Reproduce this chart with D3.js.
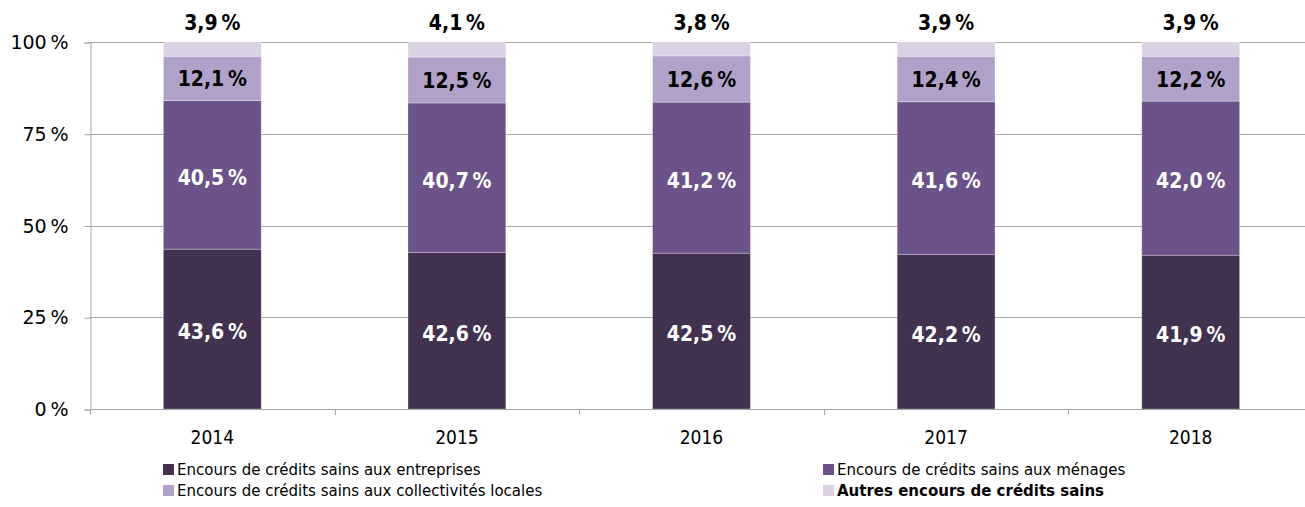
<!DOCTYPE html>
<html>
<head>
<meta charset="utf-8">
<script src="https://cdn.jsdelivr.net/npm/d3@7"></script>
<style>
  body { margin: 0; background: #fff; }
  svg text { font-family: "DejaVu Sans Condensed", "DejaVu Sans", sans-serif; }
</style>
</head>
<body>
<div id="chart"></div>
<script>
const years = ['2014', '2015', '2016', '2017', '2018']
const seriesNames = [
  'Encours de crédits sains aux entreprises',
  'Encours de crédits sains aux ménages',
  'Encours de crédits sains aux collectivités locales',
  'Autres encours de crédits sains'
]
const entreprises = [43.6, 42.6, 42.5, 42.2, 41.9]
const menages = [40.5, 40.7, 41.2, 41.6, 42.0]
const collectivites = [12.1, 12.5, 12.6, 12.4, 12.2]
const autres = [3.9, 4.1, 3.8, 3.9, 3.9]
const yTicks = [0, 0.25, 0.5, 0.75, 1]

const colours = ['#423250', '#6b5389', '#b1a1c8', '#dad1e4']
const labelColours = ['#fff', '#fff', '#000', '#000']

const width = 1305
const height = 507

const rows = years.map((y, i) => ({
  year: y,
  s0: entreprises[i],
  s1: menages[i],
  s2: collectivites[i],
  s3: autres[i]
}))
const keys = ['s0', 's1', 's2', 's3']

const stacked = d3.stack()
  .keys(keys)
  .offset(d3.stackOffsetExpand)(rows)

const svg = d3.select('#chart')
  .append('svg')
  .attr('width', width)
  .attr('height', height)

const x = d3.scaleBand()
  .domain(years)
  .range([90, 1313])
  .paddingInner(0.6)
  .paddingOuter(0.3)

const y = d3.scaleLinear()
  .domain([0, 1])
  .range([409, 42])

// gridlines
svg.append('g')
  .selectAll('line')
  .data(yTicks)
  .join('line')
  .attr('x1', 90)
  .attr('x2', 1313)
  .attr('y1', d => Math.round(y(d)) + 0.5)
  .attr('y2', d => Math.round(y(d)) + 0.5)
  .attr('stroke', '#a6a6a6')
  .attr('stroke-width', 1.2)

// y axis
const yAxis = svg.append('g')
  .attr('transform', 'translate(90.5,0.5)')
  .call(d3.axisLeft(y).tickValues(yTicks).tickSize(6).tickPadding(16)
    .tickFormat(d => Math.round(d * 100) + '\u2009%'))
yAxis.select('.domain').attr('stroke', '#a6a6a6')
yAxis.selectAll('.tick line').attr('stroke', '#a6a6a6')
yAxis.selectAll('text')
  .attr('fill', '#000')
  .style('font-size', '19px')
  .style('font-family', '"DejaVu Sans", sans-serif')

// x axis ticks between categories
const step = x.step()
const boundaries = d3.range(years.length + 1).map(i => 90 + i * step)
svg.append('g')
  .selectAll('line')
  .data(boundaries)
  .join('line')
  .attr('x1', d => Math.round(d) + 0.5)
  .attr('x2', d => Math.round(d) + 0.5)
  .attr('y1', 409)
  .attr('y2', 415)
  .attr('stroke', '#a6a6a6')

svg.append('g')
  .selectAll('text')
  .data(years)
  .join('text')
  .attr('x', d => x(d) + x.bandwidth() / 2)
  .attr('y', 444)
  .attr('text-anchor', 'middle')
  .attr('font-size', 19)
  .text(d => d)

// bars
const layers = svg.append('g')
  .selectAll('g')
  .data(stacked)
  .join('g')
  .attr('fill', (d, i) => colours[i])

layers.selectAll('rect')
  .data(d => d)
  .join('rect')
  .attr('x', d => x(d.data.year))
  .attr('width', x.bandwidth())
  .attr('y', d => y(d[1]))
  .attr('height', d => y(d[0]) - y(d[1]))
  .attr('stroke', 'rgba(255,255,255,0.35)')
  .attr('stroke-width', 0.8)

// x axis base line over bars
svg.append('line')
  .attr('x1', 90)
  .attr('x2', 1313)
  .attr('y1', 409.5)
  .attr('y2', 409.5)
  .attr('stroke', '#a6a6a6')
  .attr('stroke-width', 1.2)

// value labels
stacked.forEach((layer, i) => {
  svg.append('g')
    .selectAll('text')
    .data(layer)
    .join('text')
    .attr('x', d => x(d.data.year) + x.bandwidth() / 2)
    .attr('y', d => i === 3 ? 30 : (y(d[0]) + y(d[1])) / 2 + (i === 2 ? 8 : 10))
    .attr('text-anchor', 'middle')
    .attr('font-size', 21)
    .attr('font-weight', 'bold')
    .attr('fill', labelColours[i])
    .text(d => d3.format('.1f')(d.data[keys[i]]).replace('.', ',') + '\u2009%')
})

// legend
const legendPos = [
  { x: 163, y: 470 },
  { x: 823, y: 470 },
  { x: 163, y: 491 },
  { x: 823, y: 491 }
]
const legend = svg.append('g')
  .selectAll('g')
  .data(seriesNames)
  .join('g')
  .attr('transform', (d, i) => `translate(${legendPos[i].x},${legendPos[i].y})`)

legend.append('rect')
  .attr('x', 0)
  .attr('y', -6)
  .attr('width', 11)
  .attr('height', 11)
  .attr('fill', (d, i) => colours[i])

legend.append('text')
  .attr('x', 14)
  .attr('y', 5)
  .style('font-size', '15px')
  .style('font-family', '"DejaVu Sans", sans-serif')
  .attr('font-weight', (d, i) => i === 3 ? 'bold' : 'normal')
  .text(d => d)
</script>
</body>
</html>
